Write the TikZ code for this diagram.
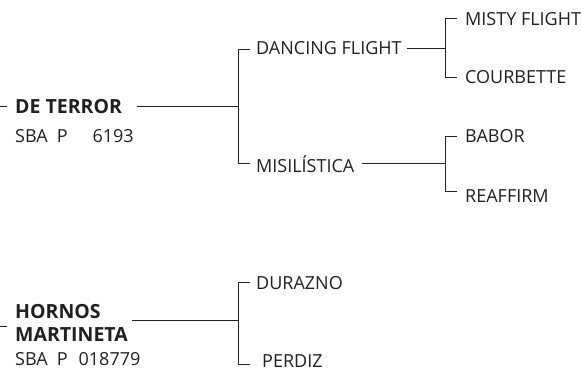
\documentclass[tikz,border=0pt]{standalone}
\usepackage{fontspec}
\setmainfont{Open Sans}
\definecolor{ink}{HTML}{231F20}
\begin{document}
\begin{tikzpicture}[x=1pt,y=-1pt,
  lbl/.style={anchor=base west,inner sep=0pt,font=\fontsize{18}{20}\selectfont,text=ink},
  blbl/.style={lbl,font=\fontsize{19.5}{22}\selectfont\bfseries},
  ln/.style={draw=ink,line width=0.8pt}]
\useasboundingbox (0,0) rectangle (581,378);
% upper tree
\node[blbl] (dt) at (15,113) {DE TERROR};
\node[lbl] (dtc) at (15,142) {SBA\hspace{9pt}P\hspace{25pt}6193};
\node[lbl] (dan) at (256,54) {DANCING FLIGHT};
\node[lbl] (mis) at (256,172) {MISILÍSTICA};
\node[lbl] (mf) at (465,25) {MISTY FLIGHT};
\node[lbl] (cou) at (465,83) {COURBETTE};
\node[lbl] (bab) at (465,142) {BABOR};
\node[lbl] (rea) at (465,202) {REAFFIRM};
\coordinate (t0) at (0,106); \coordinate (t1) at (7,106);
\coordinate (a0) at (137,106); \coordinate (a1) at (238,106);
\coordinate (b0) at (238,49); \coordinate (b1) at (238,163);
\coordinate (b0e) at (250,49); \coordinate (b1e) at (250,163);
\coordinate (c0) at (407,48); \coordinate (c1) at (445,48);
\coordinate (c2) at (445,18); \coordinate (c3) at (445,77);
\coordinate (c2e) at (457,18); \coordinate (c3e) at (457,77);
\coordinate (d0) at (362,163); \coordinate (d1) at (445,163);
\coordinate (d2) at (445,136); \coordinate (d3) at (445,191);
\coordinate (d2e) at (457,136); \coordinate (d3e) at (457,191);
\draw[ln] (t0) -- (t1);
\draw[ln] (a0) -- (a1);
\draw[ln] (b0e) -- (b0) -- (b1) -- (b1e);
\draw[ln] (c0) -- (c1);
\draw[ln] (c2e) -- (c2) -- (c3) -- (c3e);
\draw[ln] (d0) -- (d1);
\draw[ln] (d2e) -- (d2) -- (d3) -- (d3e);
% lower tree
\node[blbl] (ho) at (15,318) {HORNOS};
\node[blbl] (ma) at (15,341) {MARTINETA};
\node[lbl] (hoc) at (15,365) {SBA\hspace{9pt}P\hspace{11pt}018779};
\node[lbl] (dur) at (256,289) {DURAZNO};
\node[lbl] (per) at (262,367) {PERDIZ};
\coordinate (u0) at (0,326); \coordinate (u1) at (7,326);
\coordinate (e0) at (132,320); \coordinate (e1) at (238,320);
\coordinate (f0) at (238,282); \coordinate (f1) at (238,364);
\coordinate (f0e) at (250,282); \coordinate (f1e) at (250,364);
\draw[ln] (u0) -- (u1);
\draw[ln] (e0) -- (e1);
\draw[ln] (f0e) -- (f0) -- (f1) -- (f1e);
\end{tikzpicture}
\end{document}
